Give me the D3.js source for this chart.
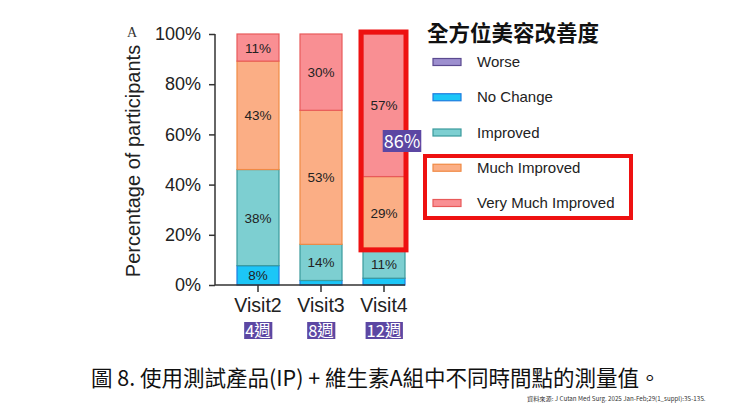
<!DOCTYPE html>
<html>
<head>
<meta charset="utf-8">
<script src="https://cdn.jsdelivr.net/npm/d3@7"></script>
<style>
  body { margin: 0; background: #fff; }
  svg { display: block; }
  .sans { font-family: "Liberation Sans", Arial, sans-serif; }
  .cjk { font-family: "Noto Sans CJK TC", "Noto Sans", sans-serif; }
</style>
</head>
<body>
<svg id="chart" width="740" height="416"></svg>
<script>
// data (percent of participants)
var visits = ["Visit2", "Visit3", "Visit4"];
var weeks = ["4週", "8週", "12週"];
var noChange = [7.7, 1.8, 2.7];
var improved = [38.3, 14.4, 11.3];
var muchImproved = [43.2, 53.4, 29.2];
var veryMuchImproved = [10.8, 30.4, 56.8];
var yTicks = [0, 20, 40, 60, 80, 100];
var legendNames = ["Worse", "No Change", "Improved", "Much Improved", "Very Much Improved"];
var highlightValue = "86%";

var fills = ["#9d8fcf", "#1cc6f7", "#7dcfd1", "#fbae85", "#f98f93"];
var strokes = ["#5b4a90", "#1d7de0", "#3a9a9c", "#f08a45", "#e85a5a"];

var svg = d3.select("#chart");

// stack the four used categories (Worse is 0 everywhere)
var rows = visits.map(function (v, i) {
  return { visit: v, noChange: noChange[i], improved: improved[i],
           much: muchImproved[i], very: veryMuchImproved[i] };
});
var keys = ["noChange", "improved", "much", "very"];
var stacked = d3.stack().keys(keys)(rows);

var x = d3.scaleBand()
  .domain(visits)
  .range([216, 405])
  .paddingInner(1 / 3)
  .paddingOuter(1 / 6)
  .align(1);

var y = d3.scaleLinear()
  .domain([0, 100])
  .range([285, 34]);

// bars
stacked.forEach(function (layer, k) {
  svg.append("g")
    .selectAll("rect")
    .data(layer)
    .enter()
    .append("rect")
      .attr("x", function (d) { return x(d.data.visit); })
      .attr("y", function (d) { return y(d[1]); })
      .attr("width", x.bandwidth())
      .attr("height", function (d) { return y(d[0]) - y(d[1]); })
      .style("fill", fills[k + 1])
      .style("stroke", strokes[k + 1])
      .style("stroke-width", 1.2);

  svg.append("g")
    .selectAll("text")
    .data(layer.filter(function (d) { return d[1] - d[0] >= 5; }))
    .enter()
    .append("text")
      .attr("class", "sans")
      .attr("x", function (d) { return x(d.data.visit) + x.bandwidth() / 2; })
      .attr("y", function (d) { return (y(d[0]) + y(d[1])) / 2 + 5; })
      .attr("text-anchor", "middle")
      .style("font-size", "13.5px")
      .style("fill", "#222")
      .text(function (d) { return Math.round(d[1] - d[0]) + "%"; });
});

// y axis
var yAxis = svg.append("g")
  .attr("transform", "translate(215,0)")
  .call(d3.axisLeft(y).tickValues(yTicks).tickSize(6).tickPadding(8)
    .tickFormat(function (d) { return d + "%"; }));
yAxis.select(".domain").attr("stroke", "#333").attr("stroke-width", 1.5).attr("d", "M0,34V285");
yAxis.selectAll(".tick line").attr("stroke", "#333").attr("stroke-width", 1.5);
yAxis.selectAll("text").attr("class", "sans").style("font-size", "18px").style("fill", "#222");

// x axis
var xAxis = svg.append("g")
  .attr("transform", "translate(0,285)")
  .call(d3.axisBottom(x).tickSize(7).tickPadding(6));
xAxis.select(".domain").attr("stroke", "#333").attr("stroke-width", 1.5).attr("d", "M215,0H405");
xAxis.selectAll(".tick line").attr("stroke", "#333").attr("stroke-width", 1.5);
xAxis.selectAll("text").attr("class", "sans").style("font-size", "19.5px").style("fill", "#222");

// week tags under the visit labels
weeks.forEach(function (w, i) {
  var cx = x(visits[i]) + x.bandwidth() / 2;
  var t = svg.append("text")
    .attr("class", "cjk")
    .attr("x", cx)
    .attr("y", 337)
    .attr("text-anchor", "middle")
    .style("font-size", "16.5px")
    .style("fill", "#fff")
    .text(w);
  var bb = t.node().getBBox();
  svg.insert("rect", function () { return t.node(); })
    .attr("x", bb.x - 1)
    .attr("y", 322)
    .attr("width", bb.width + 2)
    .attr("height", 17)
    .style("fill", "#5c47a3");
});

// axis title + panel letter
svg.append("text")
  .attr("class", "sans")
  .attr("transform", "translate(140,161)rotate(-90)")
  .attr("text-anchor", "middle")
  .style("font-size", "20px")
  .style("fill", "#222")
  .text("Percentage of participants");

svg.append("text")
  .attr("x", 127)
  .attr("y", 37)
  .style("font-family", "'Liberation Serif', serif")
  .style("font-size", "14px")
  .style("fill", "#333")
  .text("A");

// red highlight around the improved part of Visit4
svg.append("rect")
  .attr("x", x("Visit4") - 2)
  .attr("y", y(100) - 2)
  .attr("width", x.bandwidth() + 3)
  .attr("height", y(stacked[1][2][1]) - y(100) + 2)
  .style("fill", "none")
  .style("stroke", "#ee1111")
  .style("stroke-width", 5);

// 86% tag
var tag = svg.append("text")
  .attr("class", "cjk")
  .attr("x", 402)
  .attr("y", 148)
  .attr("text-anchor", "middle")
  .style("font-size", "18px")
  .style("fill", "#fff")
  .text(highlightValue);
var tb = tag.node().getBBox();
svg.insert("rect", function () { return tag.node(); })
  .attr("x", tb.x - 1)
  .attr("y", 130)
  .attr("width", tb.width + 2)
  .attr("height", 22)
  .style("fill", "#5c47a3");

// legend
svg.append("text")
  .attr("class", "cjk")
  .attr("x", 427)
  .attr("y", 41)
  .style("font-size", "21.5px")
  .style("font-weight", "bold")
  .style("fill", "#111")
  .text("全方位美容改善度");

var legendY = d3.scalePoint().domain(legendNames).range([62, 203]);
var leg = svg.append("g")
  .selectAll("g")
  .data(legendNames)
  .enter()
  .append("g")
    .attr("transform", function (d) { return "translate(433," + legendY(d) + ")"; });
leg.append("rect")
  .attr("x", 0)
  .attr("y", -3.5)
  .attr("width", 28)
  .attr("height", 7)
  .style("fill", function (d, i) { return fills[i]; })
  .style("stroke", function (d, i) { return strokes[i]; })
  .style("stroke-width", 1.2);
leg.append("text")
  .attr("class", "sans")
  .attr("x", 44)
  .attr("y", 5)
  .style("font-size", "15px")
  .style("fill", "#222")
  .text(function (d) { return d; });

svg.append("rect")
  .attr("x", 425)
  .attr("y", 156)
  .attr("width", 206)
  .attr("height", 62)
  .style("fill", "none")
  .style("stroke", "#ee1111")
  .style("stroke-width", 4);

// caption and source
svg.append("text")
  .attr("class", "cjk")
  .attr("x", 91)
  .attr("y", 386)
  .style("font-size", "21.5px")
  .style("fill", "#111")
  .text("圖 8. 使用測試產品(IP) + 維生素A組中不同時間點的測量值。");

svg.append("text")
  .attr("class", "cjk")
  .attr("x", 527)
  .attr("y", 401)
  .style("font-size", "6.2px")
  .style("fill", "#333")
  .text("資料來源: J Cutan Med Surg. 2025 Jan-Feb;29(1_suppl):3S-13S.");
</script>
</body>
</html>
